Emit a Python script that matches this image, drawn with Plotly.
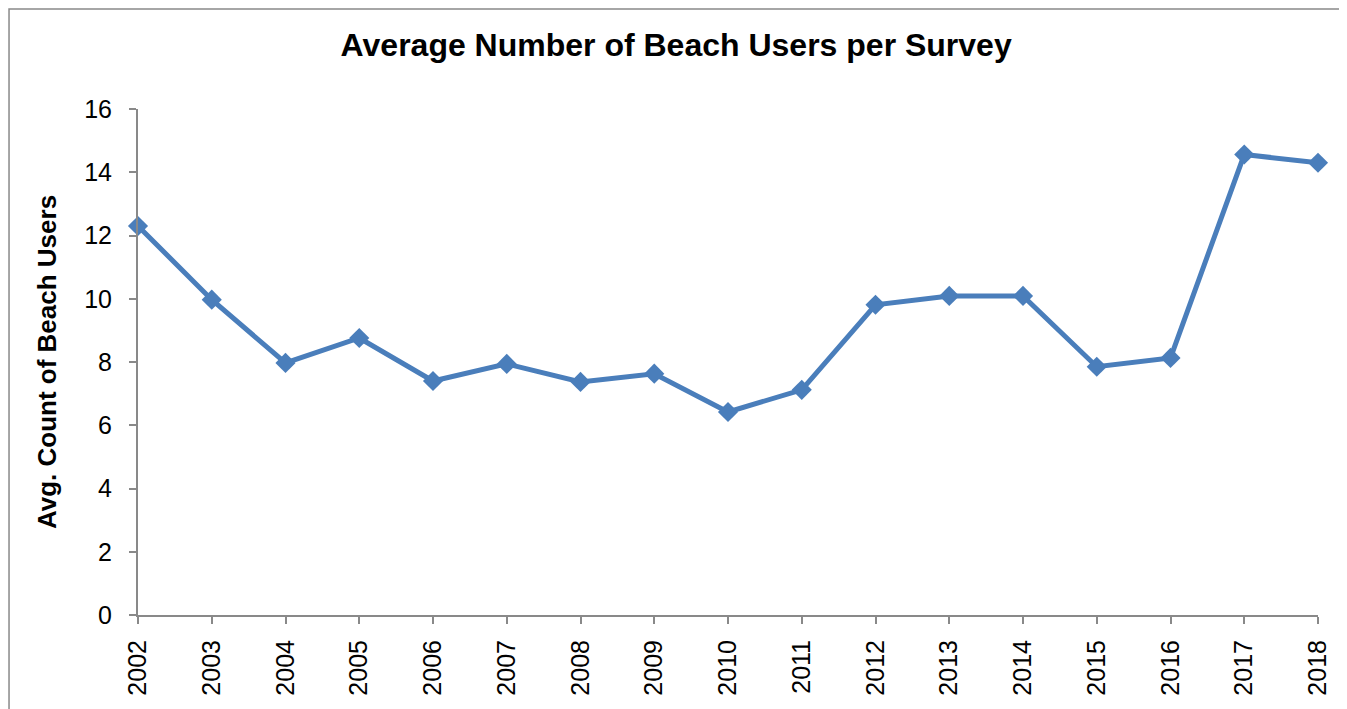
import plotly.graph_objects as go

LINE_BLUE = "#4A7EBB"
AXIS_GRAY = "#898989"
FONT = "Liberation Sans, Arial, sans-serif"

years = list(range(2002, 2019))
avg_users = [12.3, 9.97, 7.97, 8.76, 7.4, 7.94, 7.37, 7.63, 6.42,
             7.12, 9.81, 10.09, 10.09, 7.85, 8.13, 14.56, 14.3]
y_ticks = [0, 2, 4, 6, 8, 10, 12, 14, 16]

fig = go.Figure(
    go.Scatter(
        x=years,
        y=avg_users,
        mode="lines+markers",
        line=dict(color=LINE_BLUE, width=5),
        marker=dict(symbol="diamond", size=15.5, color=LINE_BLUE),
        cliponaxis=False,
    )
)

fig.update_layout(
    width=1339,
    height=701,
    plot_bgcolor="white",
    paper_bgcolor="white",
    showlegend=False,
    margin=dict(l=130, r=29, t=101, b=94),
    font=dict(family=FONT, color="black"),
    title=dict(
        text="<b>Average Number of Beach Users per Survey</b>",
        x=0.499,
        xanchor="center",
        y=0.947,
        yanchor="middle",
        font=dict(size=32, family=FONT),
    ),
    xaxis=dict(
        range=[2002, 2018],
        tickmode="array",
        tickvals=years,
        ticktext=[str(y) for y in years],
        tickangle=-90,
        tickfont=dict(size=25),
        ticklabelstandoff=6,
        showgrid=False,
        zeroline=False,
        showline=True,
        linecolor=AXIS_GRAY,
        linewidth=2,
        ticks="outside",
        ticklen=7,
        tickwidth=2,
        tickcolor=AXIS_GRAY,
    ),
    yaxis=dict(
        range=[0, 16],
        tickmode="array",
        tickvals=y_ticks,
        tickfont=dict(size=25),
        ticklabelstandoff=12,
        showgrid=False,
        zeroline=False,
        showline=True,
        linecolor=AXIS_GRAY,
        linewidth=2,
        ticks="outside",
        ticklen=7,
        tickwidth=2,
        tickcolor=AXIS_GRAY,
        title=dict(
            text="<b>Avg. Count of Beach Users</b>",
            font=dict(size=26, family=FONT),
            standoff=20,
        ),
    ),
)

# chart border like the Excel chart area
fig.add_shape(
    type="rect",
    xref="paper", yref="paper",
    x0=-0.1093, x1=1.0212, y0=-0.25, y1=1.1976,
    line=dict(color=AXIS_GRAY, width=1.5),
    layer="below",
)

fig.write_html("out.html")
